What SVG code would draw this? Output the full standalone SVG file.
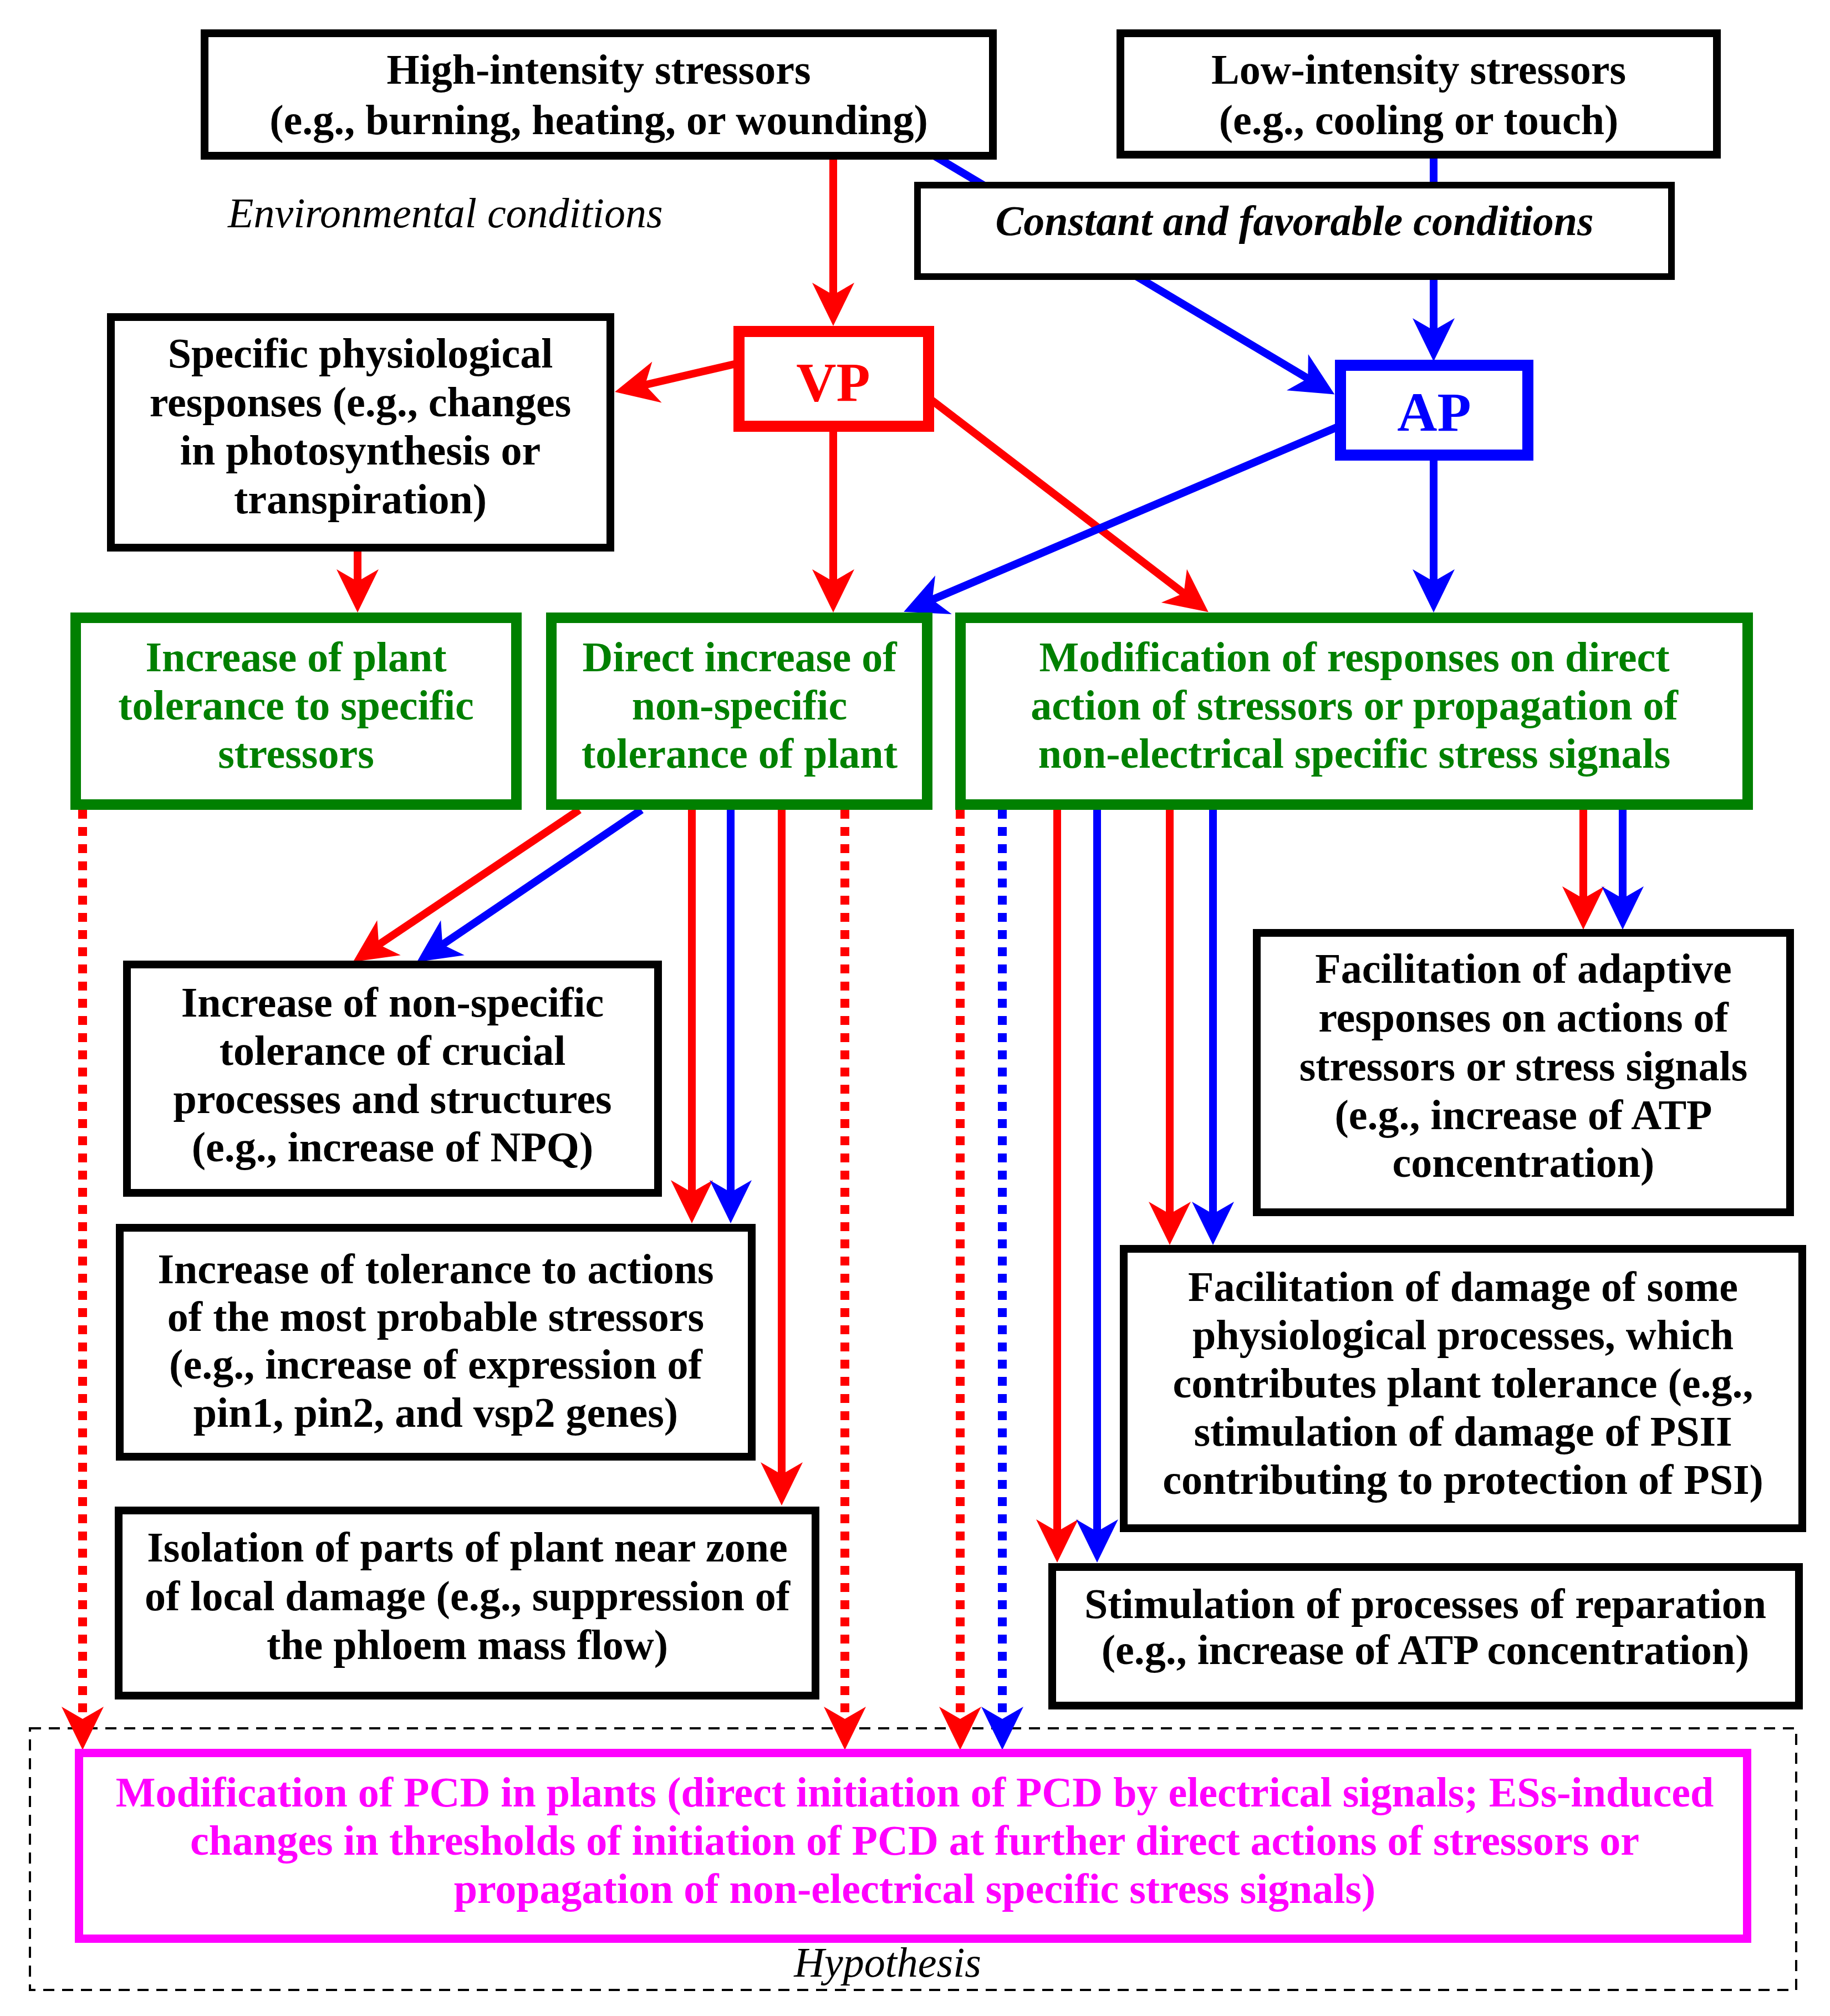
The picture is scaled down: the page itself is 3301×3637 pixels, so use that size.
<svg xmlns="http://www.w3.org/2000/svg" width="3301" height="3637" viewBox="0 0 3301 3637">
<style>
.t{font-family:"Liberation Serif","Times New Roman",serif;font-size:76px;font-weight:bold;text-anchor:middle;fill:#000}
.it{font-family:"Liberation Serif","Times New Roman",serif;font-size:76px;font-style:italic;fill:#000}
.g{fill:#008000}
.m{fill:#FF00FF}
.bx{fill:#fff;stroke:#000;stroke-width:14}
.gb{fill:#fff;stroke:#008000;stroke-width:19}
.r{stroke:#FF0000;stroke-width:14;fill:none}
.b{stroke:#0000FF;stroke-width:14;fill:none}
.rd{stroke:#FF0000;stroke-width:16;fill:none;stroke-dasharray:16 15}
.bd{stroke:#0000FF;stroke-width:16;fill:none;stroke-dasharray:16 15}
.ar{marker-end:url(#ar)}
.ab{marker-end:url(#ab)}
</style>
<defs>
<marker id="ar" markerUnits="userSpaceOnUse" viewBox="-40 -40 82 80" refX="0" refY="0" markerWidth="82" markerHeight="80" orient="auto">
<path d="M40,0 L-38,-38 L-16,0 L-38,38 Z" fill="#FF0000"/>
</marker>
<marker id="ab" markerUnits="userSpaceOnUse" viewBox="-40 -40 82 80" refX="0" refY="0" markerWidth="82" markerHeight="80" orient="auto">
<path d="M40,0 L-38,-38 L-16,0 L-38,38 Z" fill="#0000FF"/>
</marker>
</defs>
<rect width="3301" height="3637" fill="#fff"/>
<g id="hypothesis-region">
<rect x="54" y="3118" width="3186" height="472" fill="none" stroke="#000" stroke-width="4" stroke-dasharray="20 14"/>
<text class="it" x="1601" y="3566" text-anchor="middle">Hypothesis</text>
</g>
<text id="env-label" class="it" x="411" y="410">Environmental conditions</text>
<g id="connectors">
<line class="r ar" x1="1503" y1="288" x2="1503" y2="548"/>
<line class="r ar" x1="1333" y1="655" x2="1148" y2="698"/>
<line class="r ar" x1="1503" y1="769" x2="1503" y2="1065"/>
<line class="r ar" x1="1665" y1="710" x2="2148" y2="1080"/>
<line class="b ab" x1="2418" y1="768" x2="1667" y2="1088"/>
<line class="b ab" x1="1685" y1="281" x2="2373" y2="691"/>
<line class="b ab" x1="2586" y1="281" x2="2586" y2="612"/>
<line class="b ab" x1="2586" y1="821" x2="2586" y2="1065"/>
<line class="r ar" x1="645" y1="988" x2="645" y2="1065"/>
<line class="r ar" x1="1045" y1="1461" x2="670" y2="1713"/>
<line class="b ab" x1="1157" y1="1461" x2="785" y2="1713"/>
<line class="r ar" x1="1248" y1="1461" x2="1248" y2="2167"/>
<line class="b ab" x1="1318" y1="1461" x2="1318" y2="2167"/>
<line class="r ar" x1="1410" y1="1461" x2="1410" y2="2676"/>
<line class="rd ar" x1="149" y1="1461" x2="149" y2="3117"/>
<line class="rd ar" x1="1524" y1="1461" x2="1524" y2="3117"/>
<line class="rd ar" x1="1732" y1="1461" x2="1732" y2="3117"/>
<line class="bd ab" x1="1808" y1="1461" x2="1808" y2="3117"/>
<line class="r ar" x1="1907" y1="1461" x2="1907" y2="2779"/>
<line class="b ab" x1="1979" y1="1461" x2="1979" y2="2779"/>
<line class="r ar" x1="2110" y1="1461" x2="2110" y2="2206"/>
<line class="b ab" x1="2188" y1="1461" x2="2188" y2="2206"/>
<line class="r ar" x1="2856" y1="1461" x2="2856" y2="1637"/>
<line class="b ab" x1="2927" y1="1461" x2="2927" y2="1637"/>
</g>
<g id="high-intensity">
<rect class="bx" x="369" y="60" width="1422" height="221"/>
<text class="t" x="1080" y="151">High-intensity stressors</text>
<text class="t" x="1080" y="242">(e.g., burning, heating, or wounding)</text>
</g>
<g id="low-intensity">
<rect class="bx" x="2021" y="60" width="1076" height="219"/>
<text class="t" x="2559" y="151">Low-intensity stressors</text>
<text class="t" x="2559" y="242">(e.g., cooling or touch)</text>
</g>
<g id="constant">
<rect class="bx" x="1655" y="334" width="1360" height="165" style="stroke-width:12"/>
<text class="t" x="2335" y="424" font-style="italic">Constant and favorable conditions</text>
</g>
<g id="vp">
<rect x="1333" y="598" width="342" height="171" fill="#fff" stroke="#FF0000" stroke-width="20"/>
<text class="t" x="1503" y="723" style="font-size:100px;fill:#FF0000">VP</text>
</g>
<g id="ap">
<rect x="2418" y="659" width="338" height="162" fill="#fff" stroke="#0000FF" stroke-width="20"/>
<text class="t" x="2587" y="777" style="font-size:100px;fill:#0000FF">AP</text>
</g>
<g id="specific-physiological">
<rect class="bx" x="200" y="572" width="901" height="416"/>
<text class="t" x="650" y="663">Specific physiological</text>
<text class="t" x="650" y="751">responses (e.g., changes</text>
<text class="t" x="650" y="838">in photosynthesis or</text>
<text class="t" x="650" y="926">transpiration)</text>
</g>
<g id="tolerance-specific">
<rect class="gb" x="136.5" y="1114.5" width="795" height="337"/>
<text class="t g" x="534" y="1211">Increase of plant</text>
<text class="t g" x="534" y="1298">tolerance to specific</text>
<text class="t g" x="534" y="1385">stressors</text>
</g>
<g id="direct-nonspecific">
<rect class="gb" x="994.5" y="1114.5" width="678" height="337"/>
<text class="t g" x="1334" y="1211">Direct increase of</text>
<text class="t g" x="1334" y="1298">non-specific</text>
<text class="t g" x="1334" y="1385">tolerance of plant</text>
</g>
<g id="modification-responses">
<rect class="gb" x="1732.5" y="1114.5" width="1420" height="337"/>
<text class="t g" x="2443" y="1211">Modification of responses on direct</text>
<text class="t g" x="2443" y="1298">action of stressors or propagation of</text>
<text class="t g" x="2443" y="1385">non-electrical specific stress signals</text>
</g>
<g id="nonspecific-crucial">
<rect class="bx" x="229" y="1740" width="958" height="412"/>
<text class="t" x="708" y="1834">Increase of non-specific</text>
<text class="t" x="708" y="1921">tolerance of crucial</text>
<text class="t" x="708" y="2008">processes and structures</text>
<text class="t" x="708" y="2095">(e.g., increase of NPQ)</text>
</g>
<g id="probable-stressors">
<rect class="bx" x="216" y="2215" width="1140" height="413"/>
<text class="t" x="786" y="2315">Increase of tolerance to actions</text>
<text class="t" x="786" y="2401">of the most probable stressors</text>
<text class="t" x="786" y="2487">(e.g., increase of expression of</text>
<text class="t" x="786" y="2574">pin1, pin2, and vsp2 genes)</text>
</g>
<g id="isolation">
<rect class="bx" x="214" y="2725" width="1257" height="334"/>
<text class="t" x="843" y="2817">Isolation of parts of plant near zone</text>
<text class="t" x="843" y="2905">of local damage (e.g., suppression of</text>
<text class="t" x="843" y="2993">the phloem mass flow)</text>
</g>
<g id="adaptive">
<rect class="bx" x="2267" y="1683" width="962" height="504"/>
<text class="t" x="2748" y="1773">Facilitation of adaptive</text>
<text class="t" x="2748" y="1861">responses on actions of</text>
<text class="t" x="2748" y="1949">stressors or stress signals</text>
<text class="t" x="2748" y="2037">(e.g., increase of ATP</text>
<text class="t" x="2748" y="2123">concentration)</text>
</g>
<g id="damage">
<rect class="bx" x="2027" y="2253" width="1224" height="504"/>
<text class="t" x="2639" y="2347">Facilitation of damage of some</text>
<text class="t" x="2639" y="2434">physiological processes, which</text>
<text class="t" x="2639" y="2521">contributes plant tolerance (e.g.,</text>
<text class="t" x="2639" y="2608">stimulation of damage of PSII</text>
<text class="t" x="2639" y="2695">contributing to protection of PSI)</text>
</g>
<g id="reparation">
<rect class="bx" x="1898" y="2827" width="1347" height="250"/>
<text class="t" x="2571" y="2919">Stimulation of processes of reparation</text>
<text class="t" x="2571" y="3002">(e.g., increase of ATP concentration)</text>
</g>
<g id="pcd">
<rect x="142.5" y="3162.5" width="3009" height="335" fill="#fff" stroke="#FF00FF" stroke-width="15"/>
<text class="t m" x="1650" y="3259">Modification of PCD in plants (direct initiation of PCD by electrical signals; ESs-induced</text>
<text class="t m" x="1650" y="3346">changes in thresholds of initiation of PCD at further direct actions of stressors or</text>
<text class="t m" x="1650" y="3433">propagation of non-electrical specific stress signals)</text>
</g>
</svg>
